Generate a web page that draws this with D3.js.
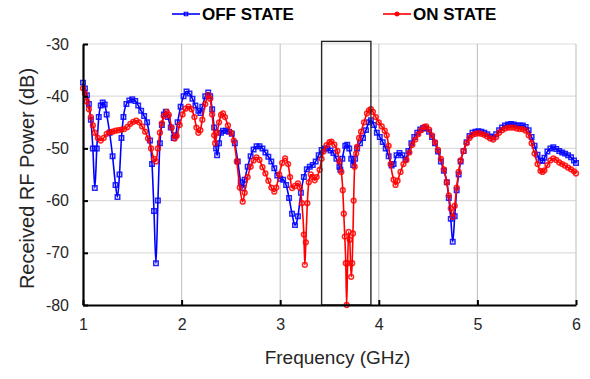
<!DOCTYPE html>
<html>
<head>
<meta charset="utf-8">
<script src="https://cdn.jsdelivr.net/npm/d3@7"></script>
<style>
  body { margin: 0; background: #fff; }
  svg { font-family: "Liberation Sans", Arial, sans-serif; }
</style>
</head>
<body>
<div id="chart"></div>
<script>
// OFF STATE: [frequency GHz, received power dB]
const offState = [
  [1.00,-37.4],[1.02,-38.5],[1.04,-39.8],[1.06,-41.5],[1.08,-44.5],[1.10,-50.0],[1.12,-57.6],[1.14,-50.0],
  [1.16,-44.0],[1.18,-41.8],[1.20,-41.2],[1.22,-41.6],[1.24,-43.5],[1.27,-47.0],[1.30,-51.5],[1.33,-57.0],
  [1.35,-59.3],[1.37,-55.0],[1.39,-48.0],[1.41,-44.0],[1.44,-41.5],[1.47,-40.8],[1.50,-40.6],[1.53,-40.9],
  [1.56,-41.8],[1.59,-42.8],[1.62,-43.8],[1.65,-45.0],[1.68,-48.5],[1.70,-53.0],[1.72,-62.0],[1.74,-72.0],
  [1.76,-60.0],[1.78,-49.0],[1.80,-45.5],[1.82,-43.5],[1.84,-43.0],[1.86,-44.0],[1.89,-46.0],[1.92,-48.0],
  [1.94,-47.5],[1.96,-45.0],[1.99,-42.0],[2.02,-40.0],[2.05,-39.1],[2.08,-39.5],[2.11,-40.5],[2.14,-41.8],
  [2.17,-42.8],[2.19,-43.2],[2.21,-42.0],[2.24,-40.0],[2.27,-39.3],[2.29,-40.0],[2.31,-42.5],[2.33,-46.0],
  [2.35,-50.0],[2.36,-51.3],[2.38,-49.0],[2.40,-47.0],[2.42,-46.6],[2.45,-46.6],[2.48,-46.8],[2.51,-47.2],
  [2.54,-49.0],[2.57,-52.5],[2.60,-56.5],[2.62,-57.6],[2.64,-56.0],[2.67,-53.5],[2.70,-51.5],[2.73,-50.2],
  [2.76,-49.6],[2.79,-49.6],[2.82,-50.0],[2.85,-50.8],[2.88,-51.6],[2.91,-52.5],[2.94,-53.8],[2.97,-55.2],
  [3.00,-55.8],[3.03,-56.0],[3.06,-57.0],[3.09,-59.5],[3.12,-62.5],[3.15,-64.7],[3.18,-63.0],[3.21,-58.5],
  [3.24,-55.5],[3.27,-54.0],[3.30,-53.5],[3.33,-53.2],[3.36,-52.5],[3.39,-51.3],[3.42,-50.3],[3.45,-50.0],
  [3.48,-50.0],[3.51,-50.4],[3.54,-50.9],[3.57,-52.0],[3.60,-53.5],[3.61,-54.1],[3.63,-52.0],[3.66,-49.5],
  [3.68,-49.3],[3.70,-50.0],[3.72,-52.0],[3.74,-53.2],[3.76,-52.0],[3.78,-50.0],[3.81,-49.0],[3.84,-48.0],
  [3.87,-46.5],[3.90,-45.0],[3.92,-44.6],[3.95,-45.5],[3.98,-47.0],[4.01,-47.8],[4.04,-48.8],[4.07,-50.0],
  [4.10,-51.5],[4.13,-53.3],[4.15,-53.0],[4.18,-51.3],[4.21,-50.9],[4.24,-51.3],[4.27,-52.1],[4.30,-50.5],
  [4.33,-49.0],[4.36,-47.8],[4.39,-47.0],[4.42,-46.4],[4.45,-46.1],[4.48,-46.2],[4.51,-46.8],[4.54,-47.8],
  [4.57,-49.0],[4.60,-50.6],[4.63,-52.5],[4.66,-54.3],[4.69,-56.5],[4.71,-59.5],[4.73,-63.5],[4.75,-67.9],
  [4.77,-63.0],[4.79,-58.0],[4.81,-55.0],[4.83,-52.5],[4.86,-50.5],[4.89,-48.8],[4.92,-47.6],[4.95,-47.0],
  [4.98,-46.8],[5.01,-46.7],[5.04,-46.8],[5.07,-47.0],[5.10,-47.3],[5.13,-47.7],[5.16,-47.9],[5.19,-47.3],
  [5.22,-46.5],[5.25,-46.0],[5.28,-45.6],[5.31,-45.4],[5.34,-45.3],[5.37,-45.4],[5.40,-45.6],[5.43,-45.6],
  [5.46,-45.6],[5.49,-45.9],[5.52,-46.5],[5.55,-47.8],[5.58,-49.5],[5.61,-51.2],[5.64,-52.3],[5.66,-52.4],
  [5.68,-51.8],[5.71,-50.6],[5.74,-50.0],[5.77,-49.8],[5.80,-50.1],[5.83,-50.5],[5.86,-50.8],[5.89,-51.0],
  [5.92,-51.3],[5.95,-51.7],[5.98,-52.3],[6.00,-52.8]
];

// ON STATE: [frequency GHz, received power dB]
const onState = [
  [1.00,-38.5],[1.02,-39.5],[1.04,-41.0],[1.06,-42.5],[1.08,-44.0],[1.10,-45.6],[1.12,-47.0],[1.15,-48.0],
  [1.18,-48.5],[1.21,-48.0],[1.24,-47.2],[1.27,-46.9],[1.30,-46.8],[1.33,-46.6],[1.36,-46.5],[1.39,-46.4],
  [1.42,-46.3],[1.45,-45.9],[1.48,-45.3],[1.51,-44.9],[1.54,-44.7],[1.57,-45.0],[1.60,-45.8],[1.63,-46.8],
  [1.66,-48.1],[1.69,-50.0],[1.72,-52.0],[1.74,-52.5],[1.76,-50.0],[1.78,-47.0],[1.80,-45.2],[1.82,-43.8],
  [1.85,-43.0],[1.87,-43.6],[1.90,-46.0],[1.93,-48.1],[1.95,-47.6],[1.98,-45.5],[2.01,-43.5],[2.04,-42.4],
  [2.07,-42.0],[2.10,-42.5],[2.13,-44.0],[2.15,-46.0],[2.17,-47.0],[2.19,-46.5],[2.21,-44.5],[2.24,-41.5],
  [2.27,-39.8],[2.29,-40.5],[2.31,-43.5],[2.33,-47.5],[2.34,-49.0],[2.36,-47.0],[2.38,-45.0],[2.40,-43.6],
  [2.42,-43.3],[2.44,-44.0],[2.47,-45.6],[2.50,-47.0],[2.53,-48.5],[2.56,-52.5],[2.59,-57.5],[2.62,-60.2],
  [2.64,-58.5],[2.67,-55.5],[2.70,-53.5],[2.73,-52.3],[2.76,-51.7],[2.79,-52.2],[2.82,-53.6],[2.85,-54.8],
  [2.88,-56.2],[2.91,-57.5],[2.94,-58.3],[2.96,-57.5],[2.99,-55.0],[3.02,-52.8],[3.05,-51.9],[3.08,-53.0],
  [3.10,-55.5],[3.12,-57.6],[3.15,-57.2],[3.18,-56.7],[3.20,-57.5],[3.22,-60.5],[3.24,-66.5],[3.25,-72.3],
  [3.26,-68.0],[3.275,-60.5],[3.29,-56.5],[3.31,-55.0],[3.33,-55.5],[3.35,-56.1],[3.37,-55.5],[3.40,-54.1],
  [3.42,-52.0],[3.44,-50.6],[3.47,-49.4],[3.50,-48.8],[3.52,-48.7],[3.55,-49.3],[3.58,-50.5],[3.60,-52.5],
  [3.62,-54.5],[3.635,-58.0],[3.645,-62.5],[3.655,-66.9],[3.665,-72.0],[3.674,-80.0],[3.684,-72.0],[3.694,-66.0],
  [3.705,-67.5],[3.72,-74.6],[3.73,-72.0],[3.738,-66.3],[3.745,-60.0],[3.755,-53.5],[3.77,-51.0],[3.78,-49.7],
  [3.80,-48.0],[3.82,-46.8],[3.85,-45.0],[3.88,-43.3],[3.90,-42.7],[3.92,-42.5],[3.94,-43.0],[3.97,-44.0],
  [4.00,-45.0],[4.03,-45.8],[4.06,-46.6],[4.08,-47.5],[4.10,-49.5],[4.12,-53.0],[4.15,-56.0],[4.17,-57.0],
  [4.19,-56.2],[4.22,-54.5],[4.25,-53.0],[4.28,-52.2],[4.31,-50.8],[4.34,-49.3],[4.37,-48.3],[4.40,-47.3],
  [4.43,-46.5],[4.46,-45.9],[4.48,-45.8],[4.51,-46.4],[4.54,-47.5],[4.57,-48.8],[4.60,-50.3],[4.63,-52.0],
  [4.66,-54.0],[4.69,-56.5],[4.71,-59.0],[4.73,-61.5],[4.75,-63.1],[4.77,-61.0],[4.79,-57.5],[4.81,-54.5],
  [4.83,-52.3],[4.86,-50.5],[4.89,-49.0],[4.92,-48.0],[4.95,-47.4],[4.98,-47.2],[5.01,-47.1],[5.04,-47.2],
  [5.07,-47.4],[5.10,-47.7],[5.13,-48.1],[5.16,-48.3],[5.19,-47.8],[5.22,-47.0],[5.25,-46.5],[5.28,-46.2],
  [5.31,-46.0],[5.34,-46.0],[5.37,-46.0],[5.40,-46.2],[5.43,-46.3],[5.46,-46.3],[5.49,-46.6],[5.52,-47.5],
  [5.55,-49.0],[5.58,-51.0],[5.61,-53.0],[5.64,-54.3],[5.66,-54.5],[5.68,-54.2],[5.71,-53.2],[5.74,-52.3],
  [5.77,-51.9],[5.80,-52.2],[5.83,-52.7],[5.86,-53.0],[5.89,-53.3],[5.92,-53.7],[5.95,-54.0],[5.98,-54.4],
  [6.00,-54.8]
];

const xTicks = [1, 2, 3, 4, 5, 6];
const yTicks = [-30, -40, -50, -60, -70, -80];
// highlighted band [fStart, fEnd] and its top level in dB
const bandBox = [3.42, 3.92];
const bandTop = -29.5;

;(() => {
  let svg = null
  let xScale = null
  let yScale = null
  const width = 590
  const height = 379
  const plot = { left: 83, right: 576, top: 44, bottom: 305 }

  const init = () => {
    svg = d3.select('#chart')
      .append('svg')
      .attr('width', width)
      .attr('height', height)

    xScale = d3.scaleLinear().domain([1, 6]).range([plot.left, plot.right])
    yScale = d3.scaleLinear().domain([-80, -30]).range([plot.bottom, plot.top])
  }

  const drawGrid = () => {
    // horizontal grid
    svg.append('g')
      .selectAll('line')
      .data(yTicks.filter(d => d !== -80))
      .join('line')
      .attr('x1', plot.left).attr('x2', plot.right)
      .attr('y1', d => yScale(d)).attr('y2', d => yScale(d))
      .attr('stroke', '#dcdcdc')
      .attr('stroke-width', 1.2)

    // vertical grid
    svg.append('g')
      .selectAll('line')
      .data(xTicks.filter(d => d !== 1))
      .join('line')
      .attr('x1', d => xScale(d)).attr('x2', d => xScale(d))
      .attr('y1', plot.top).attr('y2', plot.bottom)
      .attr('stroke', '#c8c8c8')
      .attr('stroke-width', 1.2)
  }

  const drawAxis = () => {
    const xAxis = d3.axisBottom(xScale)
      .tickValues(xTicks)
      .tickFormat(d => String(d))
      .tickSizeInner(-5)
      .tickSizeOuter(0)
      .tickPadding(14)
    const gx = svg.append('g')
      .attr('transform', `translate(0, ${plot.bottom})`)
      .call(xAxis)
    gx.select('.domain').attr('stroke', '#000').attr('stroke-width', 2.2)
    gx.selectAll('.tick line').attr('stroke', '#000').attr('stroke-width', 2)
    gx.selectAll('.tick text')
      .attr('fill', '#262626')
      .style('font-size', '16px')

    const yAxis = d3.axisLeft(yScale)
      .tickValues(yTicks)
      .tickFormat(d => String(d))
      .tickSizeInner(-5)
      .tickSizeOuter(0)
      .tickPadding(14)
    const gy = svg.append('g')
      .attr('transform', `translate(${plot.left}, 0)`)
      .call(yAxis)
    gy.select('.domain').attr('stroke', '#000').attr('stroke-width', 2.2)
    gy.selectAll('.tick line').attr('stroke', '#000').attr('stroke-width', 2)
    gy.selectAll('.tick text')
      .attr('fill', '#262626')
      .style('font-size', '16px')

    svg.append('text')
      .attr('x', (plot.left + plot.right) / 2 + 8)
      .attr('y', 364)
      .attr('text-anchor', 'middle')
      .attr('fill', '#262626')
      .style('font-size', '19px')
      .text('Frequency (GHz)')

    svg.append('text')
      .attr('transform', `translate(34, ${(plot.top + plot.bottom) / 2 + 4}) rotate(-90)`)
      .attr('text-anchor', 'middle')
      .attr('fill', '#262626')
      .style('font-size', '20px')
      .text('Received RF Power (dB)')
  }

  const drawSeries = (data, color, shape) => {
    const line = d3.line()
      .x(d => xScale(d[0]))
      .y(d => yScale(d[1]))
      .curve(d3.curveMonotoneX)

    const g = svg.append('g')
    g.append('path')
      .datum(data)
      .attr('d', line)
      .attr('fill', 'none')
      .attr('stroke', color)
      .attr('stroke-width', 1.6)

    const sym = d3.symbol().type(shape).size(shape === d3.symbolSquare ? 20 : 18)
    g.selectAll('path.m')
      .data(data)
      .join('path')
      .attr('class', 'm')
      .attr('transform', d => `translate(${xScale(d[0])}, ${yScale(d[1])})`)
      .attr('d', sym)
      .attr('fill', 'none')
      .attr('stroke', color)
      .attr('stroke-opacity', 0.85)
      .attr('stroke-width', 1.5)
  }

  const drawBox = () => {
    svg.append('rect')
      .attr('x', xScale(bandBox[0]))
      .attr('y', yScale(bandTop))
      .attr('width', xScale(bandBox[1]) - xScale(bandBox[0]))
      .attr('height', yScale(-80) - yScale(bandTop))
      .attr('fill', 'none')
      .attr('stroke', '#262626')
      .attr('stroke-width', 1.4)
  }

  const drawLegend = () => {
    const items = [
      { name: 'OFF STATE', color: '#0000ff', shape: d3.symbolSquare, x: 172 },
      { name: 'ON STATE', color: '#ff0000', shape: d3.symbolCircle, x: 383 }
    ]
    const lg = svg.append('g')
      .selectAll('g')
      .data(items)
      .join('g')
      .attr('transform', d => `translate(${d.x}, 14)`)
    lg.append('line')
      .attr('x1', 0).attr('x2', 28)
      .attr('stroke', d => d.color)
      .attr('stroke-width', 1.6)
    lg.append('path')
      .attr('transform', 'translate(14, 0)')
      .attr('d', d => d3.symbol().type(d.shape).size(12)())
      .attr('fill', d => d.shape === d3.symbolCircle ? d.color : 'none')
      .attr('stroke', d => d.color)
      .attr('stroke-width', 1.2)
    lg.append('text')
      .attr('x', 30)
      .attr('y', 6)
      .attr('fill', '#000')
      .style('font-size', '17px')
      .style('font-weight', 'bold')
      .text(d => d.name)
  }

  init()
  drawGrid()
  drawSeries(offState, '#0000ff', d3.symbolSquare)
  drawSeries(onState, '#ff0000', d3.symbolCircle)
  drawBox()
  drawAxis()
  drawLegend()
})()
</script>
</body>
</html>
